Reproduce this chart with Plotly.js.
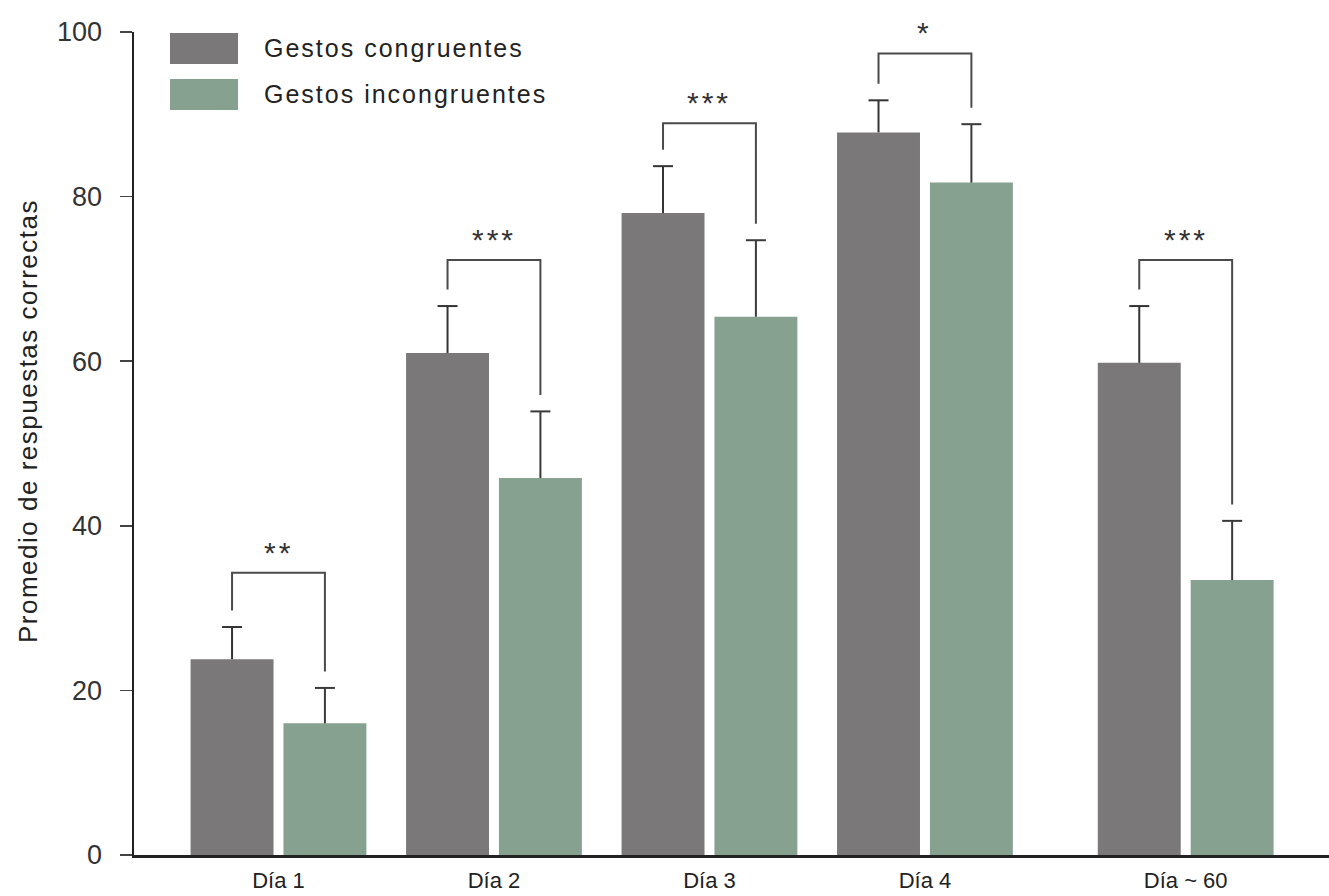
<!DOCTYPE html>
<html>
<head>
<meta charset="utf-8">
<script src="https://cdn.plot.ly/plotly-3.0.1.min.js"></script>
<style>
  html, body { margin: 0; padding: 0; background: #fff; }
  #chart { width: 1329px; height: 896px; }
</style>
</head>
<body>
<div id="chart"></div>
<script>
// ---- data ----
const categories = ['Día 1', 'Día 2', 'Día 3', 'Día 4', 'Día ~ 60'];
const seriesNames = ['Gestos congruentes', 'Gestos incongruentes'];
const congruentes = [23.8, 61.0, 78.0, 87.8, 59.8];
const congruentesErr = [3.9, 5.7, 5.7, 3.9, 6.9];
const incongruentes = [16.0, 45.8, 65.4, 81.7, 33.4];
const incongruentesErr = [4.3, 8.1, 9.3, 7.1, 7.2];
const sigLabels = ['**', '***', '***', '*', '***'];
const sigBracketTop = [34.3, 72.3, 88.9, 97.4, 72.3];
const yTicks = [0, 20, 40, 60, 80, 100];
const yTitle = 'Promedio de respuestas correctas';

// ---- layout constants (positions / styles) ----
const catPos = [1, 2, 3, 4, 5.21];
const bargap = 0.138;
const barOffset = (1 - bargap) / 4;
const colors = ['#7a7879', '#87a191'];
const font = 'Liberation Sans, Arial, sans-serif';
const plotW = 1195, plotH = 823;
const capHalf = 10 / 215.5;

const traces = [
  { type: 'bar', name: seriesNames[0], x: catPos, y: congruentes,
    marker: { color: colors[0] }, showlegend: false, hoverinfo: 'y' },
  { type: 'bar', name: seriesNames[1], x: catPos, y: incongruentes,
    marker: { color: colors[1] }, showlegend: false, hoverinfo: 'y' }
];

const shapes = [];
const annotations = [];
const legGap = 2;

// upper-only error bars (stem + cap) derived from the data arrays
function errorBar(xc, v, e, color) {
  shapes.push({ type: 'line', xref: 'x', yref: 'y', x0: xc, x1: xc, y0: v, y1: v + e,
                line: { color: color, width: 2 } });
  shapes.push({ type: 'line', xref: 'x', yref: 'y', x0: xc - capHalf, x1: xc + capHalf,
                y0: v + e, y1: v + e, line: { color: color, width: 2 } });
}

catPos.forEach((p, i) => {
  const xl = p - barOffset, xr = p + barOffset;
  errorBar(xl, congruentes[i], congruentesErr[i], '#333');
  errorBar(xr, incongruentes[i], incongruentesErr[i], '#3a3a3a');
  const yl = congruentes[i] + congruentesErr[i] + legGap;
  const yr = incongruentes[i] + incongruentesErr[i] + legGap;
  const top = sigBracketTop[i];
  shapes.push({
    type: 'path', xref: 'x', yref: 'y',
    path: `M ${xl},${yl} L ${xl},${top} L ${xr},${top} L ${xr},${yr}`,
    line: { color: '#4a4a4a', width: 2 }
  });
  annotations.push({
    x: p, y: top, xref: 'x', yref: 'y', xanchor: 'center', yanchor: 'bottom',
    text: '<span style="letter-spacing:3px">' + sigLabels[i] + '</span>',
    showarrow: false, font: { family: font, size: 30, color: '#333' }, yshift: 2
  });
});

// custom legend (large swatches)
const legendRows = [{ y0: 855 - 64, y1: 855 - 33 }, { y0: 855 - 110, y1: 855 - 79 }];
seriesNames.forEach((name, i) => {
  const r = legendRows[i];
  shapes.push({
    type: 'rect', xref: 'paper', yref: 'paper',
    x0: (170 - 134) / plotW, x1: (238 - 134) / plotW,
    y0: r.y0 / plotH, y1: r.y1 / plotH,
    fillcolor: colors[i], line: { width: 0 }
  });
  annotations.push({
    xref: 'paper', yref: 'paper', x: (262 - 134) / plotW, y: (r.y0 + r.y1) / 2 / plotH,
    xanchor: 'left', yanchor: 'middle', showarrow: false,
    text: '<span style="letter-spacing:2px">' + name + '</span>',
    font: { family: font, size: 25, color: '#222' }
  });
});

// y-axis title as rotated text
annotations.push({
  xref: 'paper', yref: 'paper', x: (28 - 134) / plotW, y: (855 - 421) / plotH,
  xanchor: 'center', yanchor: 'middle', textangle: -90, showarrow: false,
  text: '<span style="letter-spacing:1.5px">' + yTitle + '</span>',
  font: { family: font, size: 26, color: '#222' }
});

const layout = {
  width: 1329, height: 896,
  margin: { l: 134, r: 0, t: 32, b: 41 },
  paper_bgcolor: '#fff', plot_bgcolor: '#fff',
  font: { family: font, color: '#222' },
  barmode: 'group', bargap: bargap, bargroupgap: 0.107,
  showlegend: false,
  xaxis: {
    type: 'linear', range: [0.3295, 5.875],
    tickvals: catPos, ticktext: categories,
    showline: true, linecolor: '#222', linewidth: 2.5,
    ticks: '', showgrid: false, zeroline: false,
    tickfont: { family: font, size: 22, color: '#222' },
    ticklabelstandoff: 4
  },
  yaxis: {
    range: [0, 100], tickvals: yTicks,
    showline: true, linecolor: '#222', linewidth: 2.5,
    ticks: 'outside', ticklen: 12, tickwidth: 1.5, tickcolor: '#444',
    showgrid: false, zeroline: false,
    tickfont: { family: font, size: 27, color: '#333' },
    ticklabelstandoff: 12
  },
  shapes: shapes,
  annotations: annotations
};

Plotly.newPlot('chart', traces, layout, { staticPlot: true, displayModeBar: false });
</script>
</body>
</html>
